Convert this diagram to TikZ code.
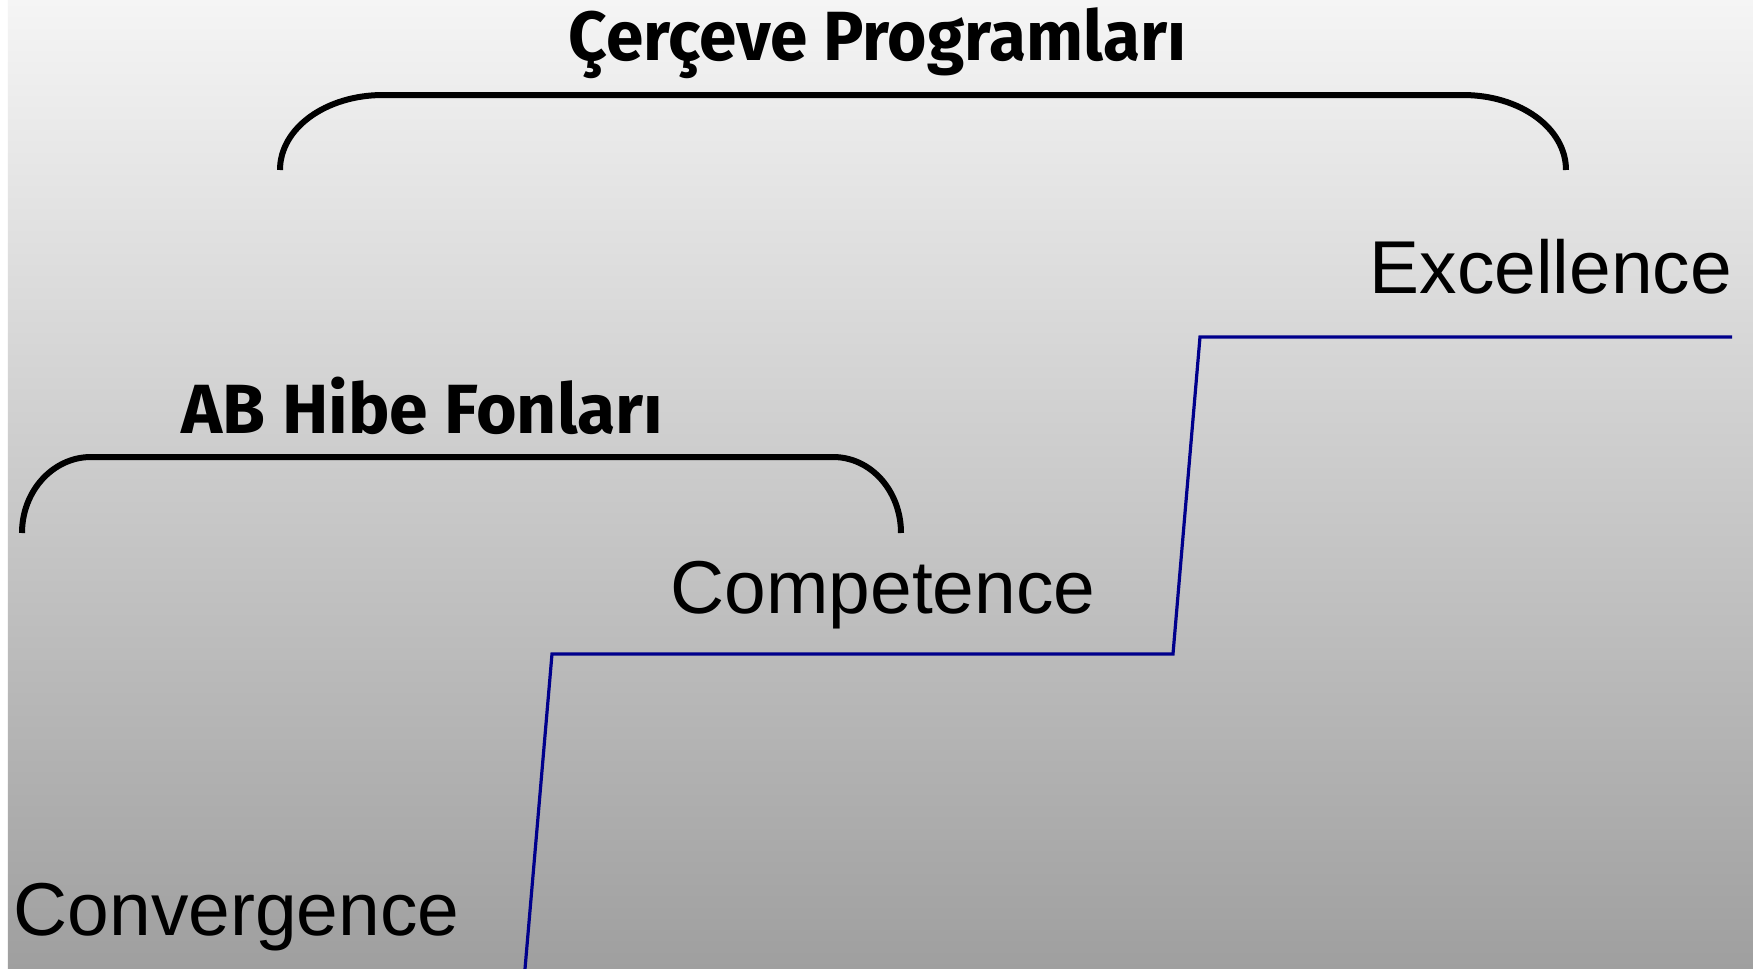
\documentclass[tikz,border=0pt]{standalone}
\usepackage{fontspec}
\setmainfont{Liberation Sans}
\newfontfamily\headfont{Fira Sans}
\usepackage{tikz}
\usetikzlibrary{positioning}

\definecolor{bgtop}{HTML}{F5F5F5}
\definecolor{bgbot}{HTML}{9F9F9F}
\definecolor{stepblue}{HTML}{00008C}

\tikzset{
  level/.style={inner sep=0pt,anchor=base west,font=\fontsize{21.3pt}{25pt}\selectfont},
  head/.style={inner sep=0pt,anchor=base west,font=\headfont\bfseries\fontsize{19.8pt}{24pt}\selectfont},
  brace/.style={line width=0.06cm,black},
  stepline/.style={line width=0.032cm,stepblue}
}

\begin{document}
\begin{tikzpicture}[x=0.01cm,y=-0.01cm]

		%background
		\useasboundingbox (0,0) rectangle (1753,969);
		\fill[white] (0,0) rectangle (8,969);
		\shade[top color=bgtop,bottom color=bgbot] (8,0) rectangle (1753,969);

		%headings
		\node[head,xscale=0.97,transform shape] (cp) at (568,60) {Çerçeve Programları};
		\node[head] (ab) at (181,433) {AB Hibe Fonları};

		%braces
		\draw[brace] (280,170) .. controls (280,128) and (326,95) .. (383,95)
			-- (1463,95) .. controls (1520,95) and (1566,128) .. (1566,170);
		\draw[brace] (22,533) .. controls (22,491) and (53,457) .. (91,457)
			-- (833,457) .. controls (871,457) and (901,491) .. (901,533);

		%levels
		\node[level] (exc) at (1369,293) {Excellence};
		\node[level] (comp) at (670,613) {Competence};
		\node[level] (conv) at (13,935) {Convergence};

		%steps
		\coordinate (s1) at (525,969);
		\coordinate (s2) at (552,654);
		\coordinate (s3) at (1173,654);
		\coordinate (s4) at (1200,337);
		\coordinate (s5) at (1732,337);
		\draw[stepline] (s1) -- (s2) -- (s3) -- (s4) -- (s5);

\end{tikzpicture}
\end{document}
